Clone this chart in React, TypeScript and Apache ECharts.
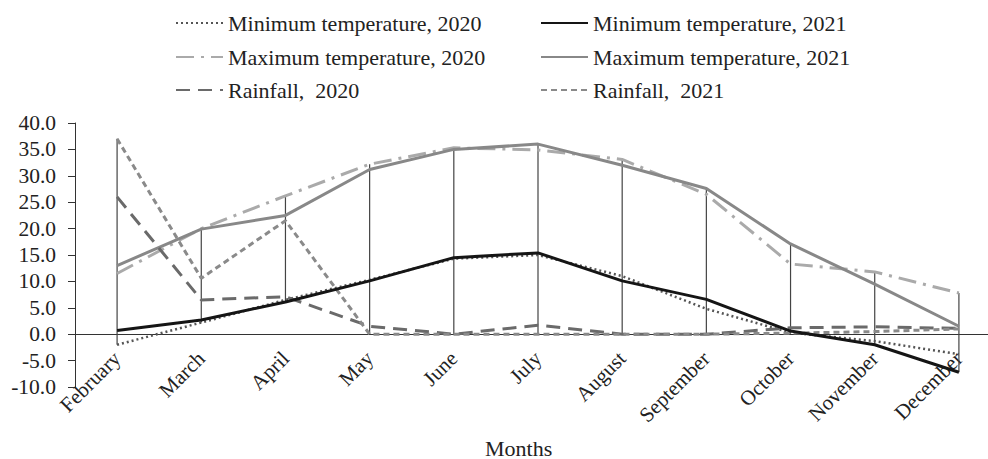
import React, { useEffect, useRef } from "react";
import * as echarts from "echarts";

const months = ["February", "March", "April", "May", "June", "July", "August", "September", "October", "November", "December"];
const minTemp2020 = [-2.0, 2.2, 6.5, 10.3, 14.3, 15.0, 11.0, 4.8, 0.3, -1.3, -3.8];
const minTemp2021 = [0.7, 2.7, 6.1, 10.1, 14.5, 15.4, 10.1, 6.6, 0.6, -2.0, -7.2];
const maxTemp2020 = [11.5, 20.0, 26.2, 32.2, 35.3, 34.9, 33.1, 26.5, 13.3, 11.8, 7.8];
const maxTemp2021 = [13.0, 19.9, 22.5, 31.2, 35.0, 36.0, 32.0, 27.6, 17.1, 9.5, 1.5];
const rain2020 = [26.0, 6.5, 7.1, 1.5, 0.0, 1.7, 0.0, 0.0, 1.2, 1.4, 1.1];
const rain2021 = [37.0, 10.6, 21.5, 0.0, 0.0, 0.0, 0.0, 0.0, 0.2, 0.5, 1.0];
const yTicks = { min: -10, max: 40, interval: 5 };

const FONT = '"Liberation Serif", "Times New Roman", serif';

const seriesDefs = [
  { name: "Minimum temperature, 2020", data: minTemp2020, color: "#555555", width: 2.5, type: [2, 3] as any },
  { name: "Minimum temperature, 2021", data: minTemp2021, color: "#151515", width: 3, type: "solid" as any },
  { name: "Maximum temperature, 2020", data: maxTemp2020, color: "#aaaaaa", width: 3, type: [18, 7, 3, 7] as any },
  { name: "Maximum temperature, 2021", data: maxTemp2021, color: "#888888", width: 3, type: "solid" as any },
  { name: "Rainfall,  2020", data: rain2020, color: "#6a6a6a", width: 3, type: [14, 8] as any },
  { name: "Rainfall,  2021", data: rain2021, color: "#8a8a8a", width: 3, type: [6, 4] as any },
];

const legendPos = [
  { left: 175, top: 12 },
  { left: 540, top: 12 },
  { left: 175, top: 46 },
  { left: 540, top: 46 },
  { left: 175, top: 79 },
  { left: 540, top: 79 },
];

export default function App() {
  const ref = useRef<HTMLDivElement>(null);
  useEffect(() => {
    if (!ref.current) return;
    const chart = echarts.init(ref.current, undefined, { renderer: "svg" });
    const all = [minTemp2020, minTemp2021, maxTemp2020, maxTemp2021, rain2020, rain2021];
    const hiLo = months.map((_, i) => [i, Math.max(...all.map((a) => a[i])), Math.min(...all.map((a) => a[i]))]);

    const option: any = {
      animation: false,
      backgroundColor: "#ffffff",
      textStyle: { fontFamily: FONT },
      grid: { left: 75, right: -13, top: 123, bottom: 72, containLabel: false, outerBoundsMode: "none" },
      legend: seriesDefs.map((s, i) => ({
        data: [s.name],
        left: legendPos[i].left,
        top: legendPos[i].top,
        padding: 0,
        itemWidth: 47,
        itemHeight: 14,
        selectedMode: false,
        itemStyle: { opacity: 0 },
        textStyle: { fontFamily: FONT, fontSize: 22, color: "#222" },
      })),
      xAxis: {
        type: "category",
        data: months,
        boundaryGap: true,
        axisLine: { onZero: true, lineStyle: { color: "#333", width: 1 } },
        axisTick: { show: false },
        axisLabel: {
          rotate: 45,
          interval: 0,
          margin: -32,
          fontFamily: FONT,
          fontSize: 21,
          color: "#222",
        },
        splitLine: { show: false },
      },
      yAxis: {
        type: "value",
        min: yTicks.min,
        max: yTicks.max,
        interval: yTicks.interval,
        axisLine: { show: true, lineStyle: { color: "#333", width: 1 } },
        axisTick: { show: true, length: 7, lineStyle: { color: "#333" } },
        axisLabel: {
          formatter: (v: number) => v.toFixed(1),
          fontFamily: FONT,
          fontSize: 21.5,
          color: "#222",
          margin: 19,
        },
        splitLine: { show: false },
      },
      graphic: [
        {
          type: "text",
          left: 485,
          top: 437,
          style: {
            text: "Months",
            fontFamily: FONT,
            fontSize: 22,
            fill: "#222",
          },
        },
      ],
      series: [
        {
          type: "custom",
          name: "hilo",
          z: 1,
          silent: true,
          encode: { x: 0, y: [1, 2] },
          data: hiLo,
          renderItem: (params: any, api: any) => {
            const i = api.value(0);
            const p1 = api.coord([i, api.value(1)]);
            const p2 = api.coord([i, api.value(2)]);
            return {
              type: "line",
              shape: { x1: p1[0], y1: p1[1], x2: p2[0], y2: p2[1] },
              style: { stroke: "#444", lineWidth: 1.2 },
            };
          },
        },
        ...seriesDefs.map((s, i) => ({
          type: "line",
          name: s.name,
          data: s.data,
          z: 2 + (i === 1 ? 5 : 0),
          symbol: "none",
          showSymbol: false,
          color: s.color,
          lineStyle: { color: s.color, width: s.width, type: s.type },
          itemStyle: { color: s.color },
        })),
      ],
    };
    chart.setOption(option);
    return () => chart.dispose();
  }, []);
  return <div ref={ref} style={{ position: "absolute", left: 0, top: 0, width: 988, height: 459 }} />;
}
